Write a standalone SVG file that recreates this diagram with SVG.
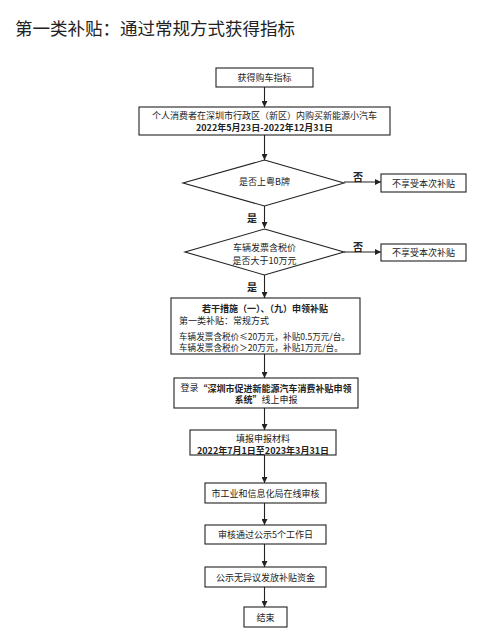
<svg xmlns="http://www.w3.org/2000/svg" width="493" height="640" viewBox="0 0 493 640">
<style>
text{font-family:"Noto Sans CJK SC","Noto Sans",sans-serif;fill:#222;dominant-baseline:central}
.t{font-size:9px;text-anchor:middle}
.l{font-size:9px;text-anchor:start}
.s{font-size:8.6px}
.b{font-weight:bold}
.lb{font-size:10px;font-weight:bold;text-anchor:middle}
.box{fill:#fff;stroke:#222;stroke-width:1.1}
.c{stroke:#222;stroke-width:1.1;fill:none;marker-end:url(#ah)}
</style>
<defs>
<marker id="ah" viewBox="0 0 10 10" refX="10" refY="5" markerWidth="6" markerHeight="6" markerUnits="userSpaceOnUse" orient="auto">
<path d="M0,0 L10,5 L0,10 z" fill="#222"/>
</marker>
</defs>
<rect width="493" height="640" fill="#fff"/>
<text x="15" y="27.5" style="font-size:17.5px">第一类补贴：通过常规方式获得指标</text>
<g id="connectors">
<line class="c" x1="264.5" y1="87" x2="264.5" y2="107"/>
<line class="c" x1="264.5" y1="135" x2="264.5" y2="160"/>
<line class="c" x1="344" y1="182" x2="381" y2="182"/>
<line class="c" x1="264.5" y1="206" x2="264.5" y2="228"/>
<line class="c" x1="344" y1="252" x2="381" y2="252"/>
<line class="c" x1="264.5" y1="275" x2="264.5" y2="298"/>
<line class="c" x1="264.5" y1="354" x2="264.5" y2="378"/>
<line class="c" x1="264.5" y1="408" x2="264.5" y2="430"/>
<line class="c" x1="264.5" y1="455" x2="264.5" y2="483"/>
<line class="c" x1="264.5" y1="503" x2="264.5" y2="525"/>
<line class="c" x1="264.5" y1="544" x2="264.5" y2="567"/>
<line class="c" x1="264.5" y1="587" x2="264.5" y2="607"/>
<text class="lb" x="358" y="176.5">否</text>
<text class="lb" x="358" y="246">否</text>
<text class="lb" x="252" y="217">是</text>
<text class="lb" x="252" y="286">是</text>
</g>
<g id="n1"><rect class="box" x="216" y="68" width="97" height="19"/><text class="t" x="264.5" y="77.5">获得购车指标</text></g>
<g id="n2"><rect class="box" x="139" y="107" width="251" height="28"/><text class="t" x="264.5" y="115.5">个人消费者在深圳市行政区（新区）内购买新能源小汽车</text><text class="t b" x="264.5" y="127.5">2022年5月23日-2022年12月31日</text></g>
<g id="d1"><polygon class="box" points="264.5,160 344,183 264.5,206 183,183"/><text class="t" x="264.5" y="181">是否上粤B牌</text></g>
<g id="r1"><rect class="box" x="381" y="174" width="85" height="18"/><text class="t" x="423.5" y="183">不享受本次补贴</text></g>
<g id="d2"><polygon class="box" points="264.5,229 344,252 264.5,275 185,252"/><text class="t" x="264.5" y="247.5">车辆发票含税价</text><text class="t" x="264.5" y="260.5">是否大于10万元</text></g>
<g id="r2"><rect class="box" x="381" y="244" width="85" height="17"/><text class="t" x="423.5" y="252.5">不享受本次补贴</text></g>
<g id="n3"><rect class="box" x="171" y="298" width="189" height="56"/>
<text class="t b" x="265" y="308.5">若干措施（一）、（九）申领补贴</text>
<text class="l" x="179" y="320.5">第一类补贴：常规方式</text>
<text class="l s" x="179" y="336">车辆发票含税价≤20万元，补贴0.5万元/台。</text>
<text class="l s" x="179" y="347">车辆发票含税价＞20万元，补贴1万元/台。</text></g>
<g id="n4"><rect class="box" x="174" y="378" width="184" height="30"/>
<text class="t" x="266" y="387.5">登录<tspan class="b">“深圳市促进新能源汽车消费补贴申领</tspan></text>
<text class="t" x="266" y="399"><tspan class="b">系统”</tspan>线上申报</text></g>
<g id="n5"><rect class="box" x="190" y="430" width="146" height="25"/><text class="t" x="263" y="438.5">填报申报材料</text><text class="t b" x="263" y="450">2022年7月1日至2023年3月31日</text></g>
<g id="n6"><rect class="box" x="205" y="483" width="121" height="20"/><text class="t" x="265.5" y="493">市工业和信息化局在线审核</text></g>
<g id="n7"><rect class="box" x="205" y="525" width="121" height="19"/><text class="t" x="265.5" y="534.5">审核通过公示5个工作日</text></g>
<g id="n8"><rect class="box" x="205" y="567" width="121" height="20"/><text class="t" x="265.5" y="577">公示无异议发放补贴资金</text></g>
<g id="n9"><rect class="box" x="244" y="607" width="43" height="20"/><text class="t" x="265.5" y="617">结束</text></g>
</svg>
